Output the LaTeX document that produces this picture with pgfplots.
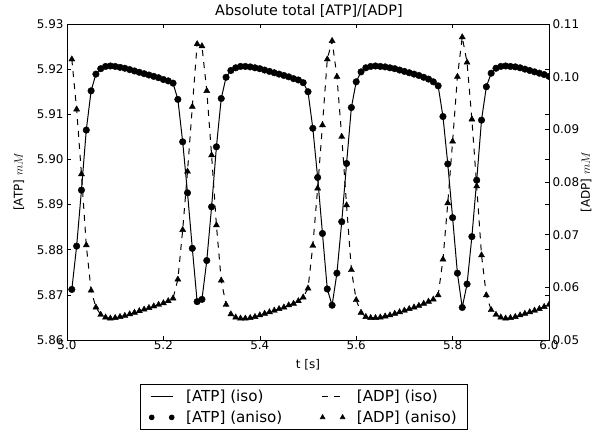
\documentclass[border=0pt]{standalone}
\usepackage{fontspec}
\setmainfont{DejaVu Sans}
\usepackage{pgfplots}
\pgfplotsset{compat=1.18}
\usepackage{pgfplotstable}

\pgfplotstableread{
t atp adp
5.01 5.8712 0.1033
5.02 5.8808 0.0938
5.03 5.8932 0.0815
5.04 5.9065 0.0680
5.05 5.9152 0.0594
5.06 5.9189 0.0562
5.07 5.9201 0.0548
5.08 5.9206 0.0543
5.09 5.9207 0.0541
5.10 5.9206 0.0542
5.11 5.9204 0.0544
5.12 5.9202 0.0546
5.13 5.9199 0.0549
5.14 5.9196 0.0552
5.15 5.9193 0.0555
5.16 5.9190 0.0558
5.17 5.9187 0.0561
5.18 5.9184 0.0564
5.19 5.9181 0.0567
5.20 5.9177 0.0570
5.21 5.9174 0.0574
5.22 5.9169 0.0579
5.23 5.9133 0.0615
5.24 5.9039 0.0709
5.25 5.8926 0.0820
5.26 5.8803 0.0943
5.27 5.8685 0.1062
5.28 5.8690 0.1058
5.29 5.8776 0.0973
5.30 5.8895 0.0851
5.31 5.9028 0.0718
5.32 5.9135 0.0613
5.33 5.9182 0.0567
5.34 5.9197 0.0549
5.35 5.9203 0.0543
5.36 5.9206 0.0541
5.37 5.9206 0.0541
5.38 5.9205 0.0542
5.39 5.9203 0.0544
5.40 5.9201 0.0547
5.41 5.9198 0.0550
5.42 5.9195 0.0553
5.43 5.9192 0.0556
5.44 5.9189 0.0559
5.45 5.9186 0.0562
5.46 5.9183 0.0566
5.47 5.9179 0.0569
5.48 5.9176 0.0574
5.49 5.9170 0.0581
5.50 5.9150 0.0598
5.51 5.9069 0.0679
5.52 5.8960 0.0788
5.53 5.8836 0.0908
5.54 5.8713 0.1033
5.55 5.8677 0.1068
5.56 5.8748 0.1000
5.57 5.8862 0.0886
5.58 5.8991 0.0756
5.59 5.9115 0.0633
5.60 5.9172 0.0576
5.61 5.9194 0.0552
5.62 5.9203 0.0544
5.63 5.9206 0.0542
5.64 5.9207 0.0542
5.65 5.9206 0.0543
5.66 5.9205 0.0545
5.67 5.9203 0.0547
5.68 5.9201 0.0550
5.69 5.9198 0.0553
5.70 5.9195 0.0556
5.71 5.9192 0.0559
5.72 5.9189 0.0562
5.73 5.9186 0.0565
5.74 5.9182 0.0569
5.75 5.9178 0.0573
5.76 5.9172 0.0577
5.77 5.9163 0.0585
5.78 5.9095 0.0653
5.79 5.8990 0.0760
5.80 5.8871 0.0877
5.81 5.8748 0.1000
5.82 5.8672 0.1075
5.83 5.8724 0.1027
5.84 5.8829 0.0919
5.85 5.8954 0.0792
5.86 5.9087 0.0661
5.87 5.9161 0.0585
5.88 5.9191 0.0557
5.89 5.9202 0.0548
5.90 5.9206 0.0543
5.91 5.9207 0.0541
5.92 5.9206 0.0542
5.93 5.9205 0.0544
5.94 5.9203 0.0547
5.95 5.9200 0.0550
5.96 5.9197 0.0553
5.97 5.9194 0.0556
5.98 5.9191 0.0559
5.99 5.9188 0.0563
6.00 5.9184 0.0567
}\data

\pgfplotsset{
  common/.style={
    at={(0,0)}, anchor=south west,
    scale only axis, width=482bp, height=316bp,
    xmin=5, xmax=6,
    tick align=inside, major tick length=4bp,
    minor tick num=0,
    scaled ticks=false,
    /pgf/number format/assume math mode=true,
    tick label style={font=\fontsize{12}{14}\selectfont},
    label style={font=\fontsize{12}{14}\selectfont},
    axis line style={black, line width=0.8bp},
    every tick/.style={black, line width=0.6bp},
    clip marker paths=true,
  },
  lineleg/.style={legend image code/.code={\draw[##1] (0bp,0bp) -- (22bp,0bp);}},
  markleg/.style={legend image code/.code={\draw[##1, only marks] plot coordinates {(1bp,0bp) (21bp,0bp)};}},
}

\begin{document}
\begin{tikzpicture}
\path[use as bounding box] (-67bp,-90bp) rectangle (528bp,340bp);
\begin{axis}[
  common,
  ymin=5.86, ymax=5.93,
  xtick={5.0,5.2,5.4,5.6,5.8,6.0},
  ytick={5.86,5.87,5.88,5.89,5.90,5.91,5.92,5.93},
  xticklabel style={yshift=3bp, /pgf/number format/.cd, fixed, fixed zerofill, precision=1},
  yticklabel style={/pgf/number format/.cd, fixed, fixed zerofill, precision=2},
  xlabel={t [s]},
  xlabel style={at={(axis description cs:0.5,-0.079)}, anchor=center},
  ylabel={[ATP] $mM$},
  ylabel style={at={(axis description cs:-0.0996,0.5)}, anchor=center},
  title={Absolute total [ATP]/[ADP]},
  title style={font=\fontsize{14.4}{17}\selectfont, at={(axis description cs:0.502,1.008)}, anchor=base},
]
\addplot[black, line width=1bp, no marks, forget plot] table[x=t, y=atp] {\data};
\addplot[black, only marks, mark=*, mark size=3.3bp, forget plot] table[x=t, y=atp] {\data};
\end{axis}
\begin{axis}[
  common,
  ymin=0.05, ymax=0.11,
  hide x axis,
  axis y line*=right,
  ytick={0.05,0.06,0.07,0.08,0.09,0.10,0.11},
  yticklabel style={/pgf/number format/.cd, fixed, fixed zerofill, precision=2},
  ylabel={[ADP] $mM$},
  ylabel style={at={(axis description cs:1.0768,0.5)}, anchor=center},
  legend columns=2,
  legend cell align=left,
  legend style={at={(axis description cs:0.4917,-0.1377)}, anchor=north,
    draw=black, line width=0.8bp, font=\fontsize{15.2}{18}\selectfont,
    inner xsep=9bp, inner ysep=4bp, row sep=4bp,
    /tikz/every odd column/.append style={column sep=10bp},
    /tikz/every even column/.append style={column sep=36bp}},
]
\addplot[black, line width=1bp, dash pattern=on 6bp off 6bp, no marks, forget plot] table[x=t, y=adp] {\data};
\addplot[black, only marks, mark=triangle*, mark size=3.5bp, forget plot] table[x=t, y=adp] {\data};
\addlegendimage{black, line width=1bp, lineleg}
\addlegendentry{[ATP] (iso)}
\addlegendimage{black, line width=1bp, dash pattern=on 6bp off 6bp, lineleg}
\addlegendentry{[ADP] (iso)}
\addlegendimage{black, mark=*, mark size=2.4bp, markleg}
\addlegendentry{[ATP] (aniso)}
\addlegendimage{black, mark=triangle*, mark size=2.6bp, markleg}
\addlegendentry{[ADP] (aniso)}
\end{axis}
\end{tikzpicture}
\end{document}
